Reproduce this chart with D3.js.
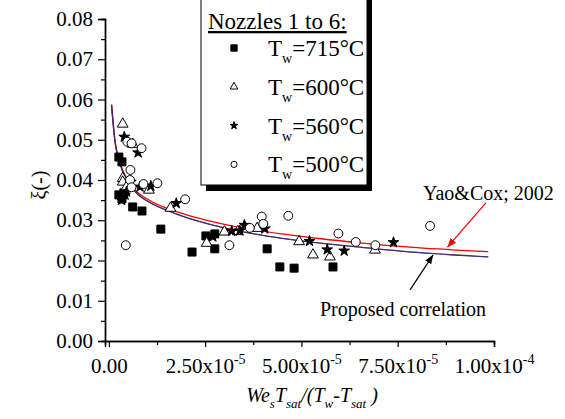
<!DOCTYPE html>
<html>
<head>
<meta charset="utf-8">
<script src="https://cdn.jsdelivr.net/npm/d3@7/dist/d3.min.js"></script>
<style>
  html, body { margin: 0; padding: 0; background: #fff; }
  svg { display: block; font-family: "Liberation Serif", "DejaVu Serif", serif; }
</style>
</head>
<body>
<svg id="chart" width="565" height="419"></svg>
<script>
// Measured spreading ratio xi against We_s*T_sat/(T_w - T_sat), nozzles 1 to 6
const x715 = [0.26e-5, 0.34e-5, 0.26e-5, 0.39e-5, 0.34e-5, 0.62e-5, 0.86e-5, 1.35e-5, 2.16e-5, 2.52e-5, 2.75e-5, 2.75e-5, 4.11e-5, 4.44e-5, 4.81e-5, 5.82e-5];
const y715 = [0.0457, 0.0445, 0.0363, 0.0368, 0.0353, 0.0333, 0.0323, 0.0278, 0.0221, 0.0261, 0.0266, 0.0229, 0.0229, 0.0184, 0.0181, 0.0184];

const x600 = [0.36e-5, 0.62e-5, 0.36e-5, 0.36e-5, 0.46e-5, 1.04e-5, 1.60e-5, 2.54e-5, 3.00e-5, 3.35e-5, 3.85e-5, 4.94e-5, 5.30e-5, 5.74e-5, 6.91e-5];
const y600 = [0.0539, 0.0489, 0.0404, 0.0395, 0.0383, 0.0375, 0.0330, 0.0243, 0.0271, 0.0272, 0.0280, 0.0247, 0.0214, 0.0209, 0.0226];

const x560 = [0.40e-5, 0.76e-5, 0.57e-5, 0.81e-5, 1.09e-5, 0.46e-5, 0.33e-5, 0.42e-5, 1.75e-5, 2.70e-5, 3.19e-5, 3.40e-5, 3.52e-5, 4.05e-5, 5.21e-5, 5.67e-5, 6.11e-5, 7.39e-5];
const y560 = [0.0507, 0.0468, 0.0395, 0.0383, 0.0385, 0.0371, 0.0350, 0.0363, 0.0342, 0.0259, 0.0273, 0.0274, 0.0288, 0.0279, 0.0248, 0.0227, 0.0224, 0.0245];

const x500 = [0.48e-5, 0.59e-5, 0.85e-5, 0.56e-5, 0.55e-5, 0.59e-5, 0.90e-5, 1.26e-5, 0.44e-5, 1.98e-5, 3.13e-5, 3.66e-5, 3.97e-5, 4.01e-5, 4.66e-5, 5.96e-5, 6.41e-5, 6.92e-5, 8.34e-5];
const y500 = [0.0495, 0.0491, 0.0479, 0.0425, 0.0400, 0.0382, 0.0390, 0.0392, 0.0238, 0.0352, 0.0238, 0.0281, 0.0309, 0.0291, 0.0311, 0.0267, 0.0246, 0.0238, 0.0286];

// Correlation curves, sampled along their length
const xCurve = [0.07e-5, 0.15e-5, 0.3e-5, 0.6e-5, 1.065e-5, 1.5e-5, 2.0e-5, 2.5e-5, 3.0e-5, 3.66e-5, 4.5e-5, 5.5e-5, 6.52e-5, 8.0e-5, 9.85e-5];
const yYaoCox   = [0.0588, 0.0505, 0.0441, 0.0385, 0.0349, 0.0330, 0.0314, 0.0301, 0.0290, 0.0278, 0.0266, 0.0254, 0.0244, 0.0232, 0.0222];
const yProposed = [0.0586, 0.0503, 0.0438, 0.0381, 0.0344, 0.0325, 0.0307, 0.0293, 0.0281, 0.0268, 0.0255, 0.0243, 0.0233, 0.0220, 0.0209];

// Axis ticks
const xMajorTicks = [0, 2.5e-5, 5e-5, 7.5e-5, 1e-4];
const xTickMantissa = ["0.00", "2.50x10", "5.00x10", "7.50x10", "1.00x10"];
const xTickExponent = ["", "-5", "-5", "-5", "-4"];
const xMinorTicks = [1.25e-5, 3.75e-5, 6.25e-5, 8.75e-5];
const yMajorTicks = [0, 0.01, 0.02, 0.03, 0.04, 0.05, 0.06, 0.07, 0.08];
const yMinorTicks = [0.005, 0.015, 0.025, 0.035, 0.045, 0.055, 0.065, 0.075];

const legendLabels = ["715", "600", "560", "500"];

const svg = d3.select("#chart");
const x = d3.scaleLinear().domain([-1e-6, 1e-4]).range([105, 494]);
const y = d3.scaleLinear().domain([0, 0.08]).range([341, 19]);

// ---- axes
const yAxisMinor = d3.axisLeft(y).tickValues(yMinorTicks).tickSize(4).tickFormat("");
const yAxisMajor = d3.axisLeft(y).tickValues(yMajorTicks).tickSize(7).tickPadding(5).tickFormat(d3.format(".2f"));
const xAxisMinor = d3.axisBottom(x).tickValues(xMinorTicks).tickSize(4).tickFormat("");
const xAxisMajor = d3.axisBottom(x).tickValues(xMajorTicks).tickSize(6).tickFormat("");

function styleAxis(g) {
  g.select(".domain").attr("stroke", "#000").attr("stroke-width", 1.4);
  g.selectAll(".tick line").attr("stroke", "#000").attr("stroke-width", 1.2);
}

svg.append("g").attr("transform", "translate(105,0)").call(yAxisMinor).call(styleAxis);
const gy = svg.append("g").attr("transform", "translate(105,0)").call(yAxisMajor).call(styleAxis);
gy.selectAll(".tick text").attr("font-size", 21).attr("font-family", "Liberation Serif").attr("fill", "#000");

svg.append("g").attr("transform", "translate(0,341)").call(xAxisMinor).call(styleAxis);
const gx = svg.append("g").attr("transform", "translate(0,341)").call(xAxisMajor).call(styleAxis);
gx.selectAll(".tick").each(function(d, i) {
  const t = d3.select(this).append("text")
    .attr("y", 32).attr("text-anchor", "middle")
    .attr("font-size", 21).attr("font-family", "Liberation Serif").attr("fill", "#000");
  t.append("tspan").text(xTickMantissa[i]);
  if (xTickExponent[i]) {
    t.append("tspan").attr("dy", -9).attr("font-size", 14).text(xTickExponent[i]);
  }
});

// axis titles
svg.append("text")
  .attr("transform", "translate(46,185) rotate(-90)")
  .attr("text-anchor", "middle").attr("font-size", 20)
  .text("ξ(-)");

const xt = svg.append("text").attr("x", 312).attr("y", 402)
  .attr("text-anchor", "middle").attr("font-size", 20).attr("font-style", "italic");
xt.append("tspan").text("We");
xt.append("tspan").attr("dy", 6).attr("font-size", 13).text("s");
xt.append("tspan").attr("dy", -6).text("T");
xt.append("tspan").attr("dy", 6).attr("font-size", 13).text("sat");
xt.append("tspan").attr("dy", -6).text("/(T");
xt.append("tspan").attr("dy", 6).attr("font-size", 13).text("w");
xt.append("tspan").attr("dy", -6).text("-T");
xt.append("tspan").attr("dy", 6).attr("font-size", 13).text("sat");
xt.append("tspan").attr("dy", -6).text(" )");

// ---- correlation curves
const line = d3.line().curve(d3.curveMonotoneX);
const ptsYao = xCurve.map((v, i) => [x(v), y(yYaoCox[i])]);
const ptsProp = xCurve.map((v, i) => [x(v), y(yProposed[i])]);
svg.append("path").attr("d", line(ptsYao)).attr("fill", "none").attr("stroke", "#ff0000").attr("stroke-width", 1.3);
svg.append("path").attr("d", line(ptsProp)).attr("fill", "none").attr("stroke", "#222").attr("stroke-width", 1.3);
svg.append("path").attr("d", line(ptsProp)).attr("fill", "none").attr("stroke", "#6a2ad8").attr("stroke-width", 1).attr("opacity", 0.6);

// ---- data symbols
const series = [
  { xs: x715, ys: y715, type: d3.symbolSquare, size: 64, fill: "#000" },
  { xs: x600, ys: y600, type: d3.symbolTriangle, size: 50, fill: "#fff" },
  { xs: x560, ys: y560, type: d3.symbolStar, size: 36, fill: "#000" },
  { xs: x500, ys: y500, type: d3.symbolCircle, size: 62, fill: "#fff" }
];
const legendSizes = [40, 26, 18, 30];

series.forEach(s => {
  const sym = d3.symbol().type(s.type).size(s.size);
  svg.append("g").selectAll("path")
    .data(s.xs.map((v, i) => [v, s.ys[i]]))
    .join("path")
    .attr("d", sym)
    .attr("transform", d => `translate(${x(d[0])},${y(d[1])})`)
    .attr("fill", s.fill)
    .attr("stroke", "#000")
    .attr("stroke-width", 1);
});

// ---- legend box with drop shadow
const lg = svg.append("g");
lg.append("rect").attr("x", 206).attr("y", -5).attr("width", 166).attr("height", 196).attr("fill", "#000");
lg.append("rect").attr("x", 201).attr("y", -10).attr("width", 166).attr("height", 195)
  .attr("fill", "#fff").attr("stroke", "#000").attr("stroke-width", 1);
lg.append("text").attr("x", 208).attr("y", 29).attr("font-size", 23)
  .attr("text-decoration", "underline").text("Nozzles 1 to 6:");
series.forEach((s, i) => {
  const cy = 48 + i * 38.8;
  lg.append("path")
    .attr("d", d3.symbol().type(s.type).size(legendSizes[i]))
    .attr("transform", `translate(234,${cy})`)
    .attr("fill", s.fill).attr("stroke", "#000").attr("stroke-width", 1);
  const t = lg.append("text").attr("x", 268).attr("y", cy + 8).attr("font-size", 23);
  t.append("tspan").text("T");
  t.append("tspan").attr("dy", 7).attr("font-size", 14).text("w");
  t.append("tspan").attr("dy", -7).text("=" + legendLabels[i] + "°C");
});

// ---- annotations
const defs = svg.append("defs");
[["arrRed", "#ff0000"], ["arrBlack", "#000"]].forEach(([id, c]) => {
  defs.append("marker").attr("id", id).attr("viewBox", "0 0 10 10")
    .attr("refX", 10).attr("refY", 5).attr("markerWidth", 9).attr("markerHeight", 9)
    .attr("markerUnits", "userSpaceOnUse").attr("orient", "auto")
    .append("path").attr("d", "M0,1 L10,5 L0,9 Z").attr("fill", c);
});
svg.append("line")
  .attr("x1", x(9.79e-5)).attr("y1", y(0.0343)).attr("x2", x(8.79e-5)).attr("y2", y(0.0233))
  .attr("stroke", "#ff0000").attr("stroke-width", 1.2).attr("marker-end", "url(#arrRed)");
svg.append("line")
  .attr("x1", x(7.82e-5)).attr("y1", y(0.0127)).attr("x2", x(8.42e-5)).attr("y2", y(0.0214))
  .attr("stroke", "#000").attr("stroke-width", 1.2).attr("marker-end", "url(#arrBlack)");

svg.append("text").attr("x", 423).attr("y", 200).attr("font-size", 20).text("Yao&Cox; 2002");
svg.append("text").attr("x", 320).attr("y", 316).attr("font-size", 20).text("Proposed correlation");
</script>
</body>
</html>
